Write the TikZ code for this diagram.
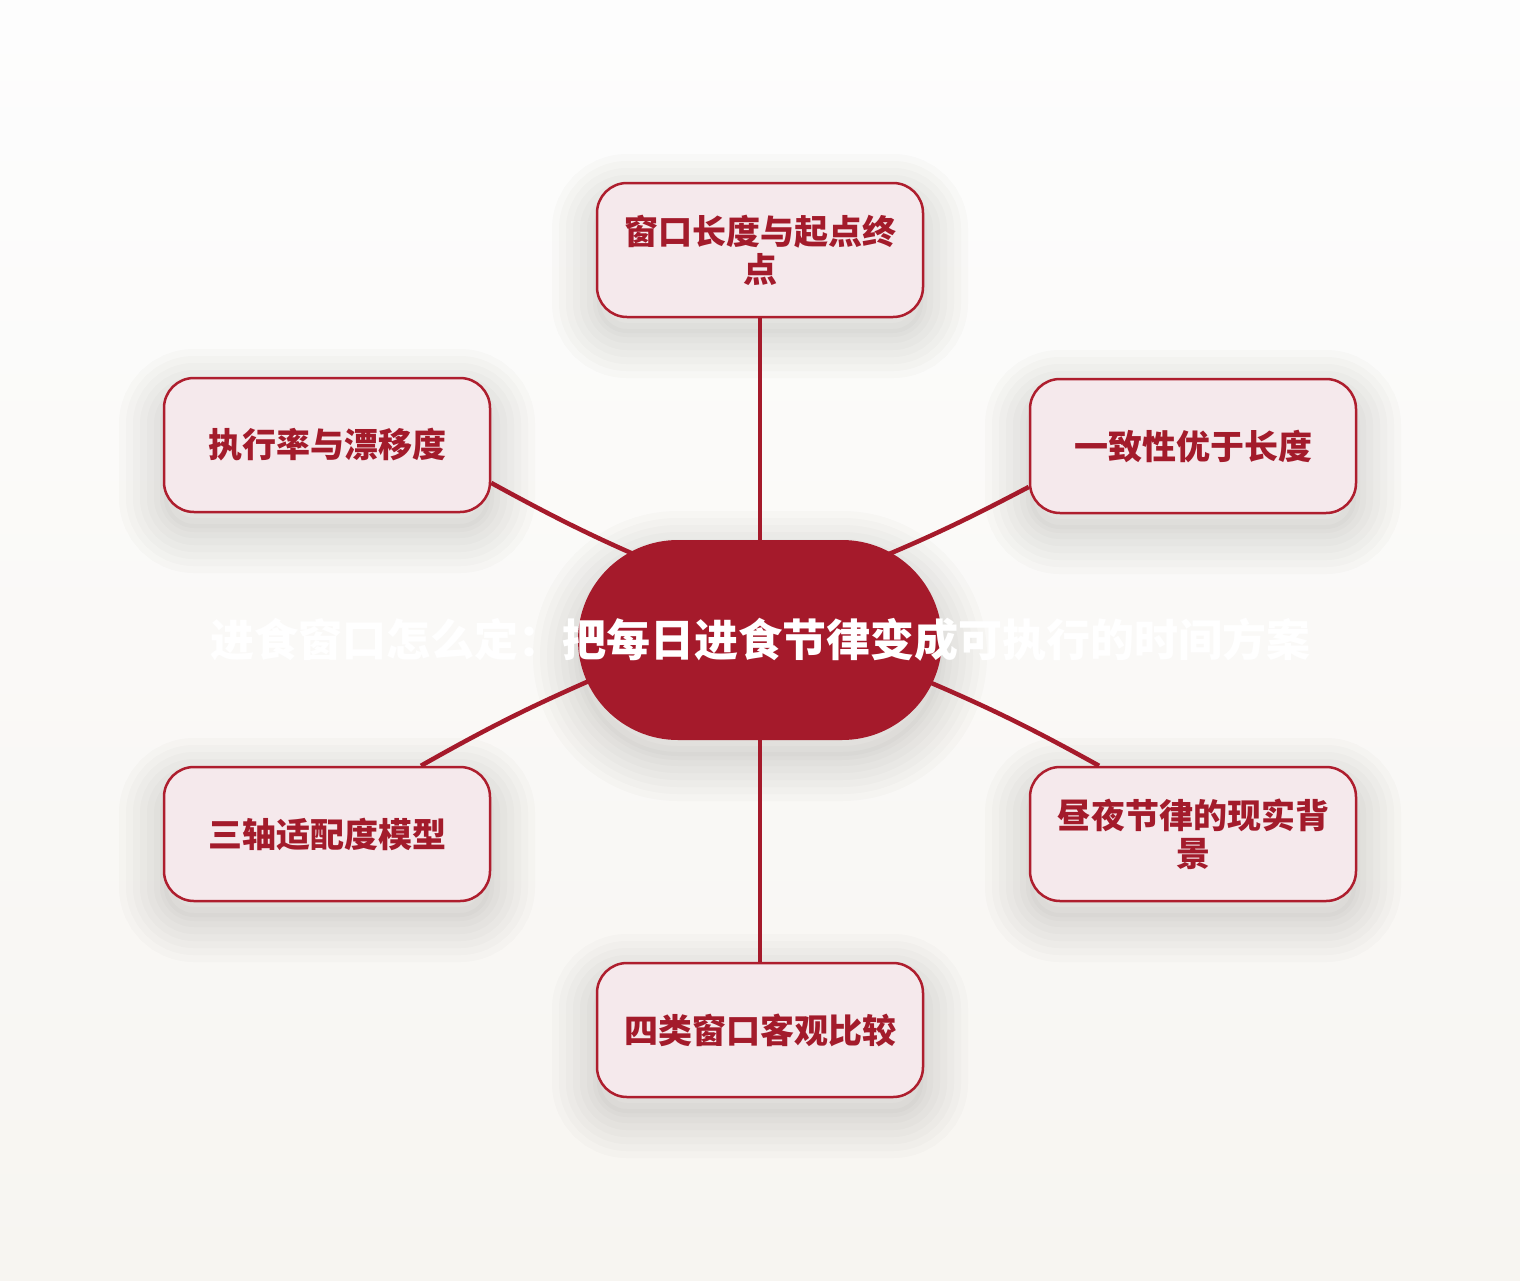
\documentclass[tikz,border=0pt]{standalone}
\usepackage{fontspec}
\newfontfamily\cjk{Noto Sans CJK SC}
\usetikzlibrary{calc}
\definecolor{boxline}{HTML}{AE1E2E}
\definecolor{boxfill}{HTML}{F5E9EC}
\definecolor{boxtext}{HTML}{A31B2B}
\definecolor{hubred}{HTML}{A51A2B}
\definecolor{bgtop}{HTML}{FDFDFD}
\definecolor{bgbot}{HTML}{F7F5F1}
\definecolor{shc}{HTML}{3A3328}
\begin{document}
\begin{tikzpicture}[x=1pt,y=-1pt,
  shlayer/.style={preaction={draw=shc, draw opacity=0.02, line width=#1, transform canvas={yshift=-16pt}}},
  softshadow/.style={preaction={fill=shc, fill opacity=0.02, transform canvas={yshift=-16pt}},
    shlayer=90pt, shlayer=76pt, shlayer=62pt, shlayer=48pt, shlayer=34pt, shlayer=20pt, shlayer=8pt},
  box/.style={draw=boxline, line width=2.5pt, fill=boxfill, rounded corners=30pt,
    minimum width=326pt, minimum height=134pt, align=center, text=boxtext,
    font=\cjk\bfseries\fontsize{34}{38}\selectfont, inner sep=0pt, softshadow},
  hub/.style={fill=hubred, rounded corners=100pt, minimum width=364pt, minimum height=200pt,
    text=white, font=\cjk\bfseries\fontsize{44}{48}\selectfont, inner sep=0pt, softshadow},
  link/.style={draw=hubred, line width=4.5pt}]
\fill[top color=bgtop, bottom color=bgbot] (0,0) rectangle (1520,1280);
\useasboundingbox (0,0) rectangle (1520,1280);

\node[hub] (c) at (760,640) {\makebox[0pt][c]{进食窗口怎么定：把每日进食节律变成可执行的时间方案}};
\node[box] (t)  at (760,250)  {窗口长度与起点终\\点};
\node[box] (ul) at (327,445)  {执行率与漂移度};
\node[box] (ur) at (1193,446) {一致性优于长度};
\node[box] (ll) at (327,834)  {三轴适配度模型};
\node[box] (lr) at (1193,834) {昼夜节律的现实背\\景};
\node[box] (b)  at (760,1030) {四类窗口客观比较};

\draw[link] (t) -- (c);
\draw[link] (c) -- (b);
\draw[link] (ul.-13) to[bend right=3] ($(c.center)+(-80,-66)$);
\draw[link] (ur.194) to[bend left=3] ($(c.center)+(80,-66)$);
\draw[link] (ll.36) to[bend left=3] ($(c.center)+(-155,34)$);
\draw[link] (lr.144) to[bend right=3] ($(c.center)+(155,36)$);
\end{tikzpicture}
\end{document}
